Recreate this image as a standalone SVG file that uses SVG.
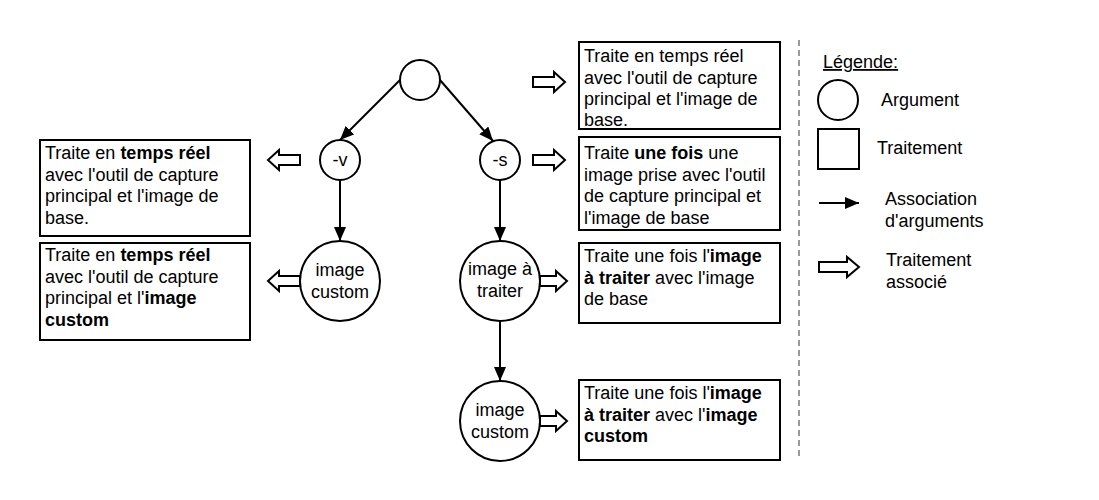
<svg xmlns="http://www.w3.org/2000/svg" width="1099" height="500" viewBox="0 0 1099 500">
<defs>
<style>
.s{fill:#fff;stroke:#000;stroke-width:2}
.t{font-family:"Liberation Sans",Arial,sans-serif;font-size:18px;fill:#000}
.c{text-anchor:middle}
.b{font-weight:bold}
.ln{fill:none;stroke:#000;stroke-width:2}
.ba{fill:#fff;stroke:#000;stroke-width:2;stroke-linejoin:miter}
</style>
<marker id="ah" viewBox="0 0 14 12" refX="14" refY="6" markerWidth="14" markerHeight="12" markerUnits="userSpaceOnUse" orient="auto">
<path d="M0,0 L14,6 L0,12 Z" fill="#000"/>
</marker>
</defs>
<rect width="1099" height="500" fill="#fff"/>

<g id="connectors">
<line class="ln" x1="400" y1="80" x2="340" y2="140" marker-end="url(#ah)"/>
<line class="ln" x1="440" y1="80" x2="493" y2="141" marker-end="url(#ah)"/>
<line class="ln" x1="340" y1="180" x2="340" y2="241" marker-end="url(#ah)"/>
<line class="ln" x1="500" y1="180" x2="500" y2="241" marker-end="url(#ah)"/>
<line class="ln" x1="500" y1="321" x2="500" y2="381" marker-end="url(#ah)"/>
<path class="ba" d="M300,155 L279,155 L279,150 L268,160 L279,170 L279,165 L300,165 Z"/>
<path class="ba" d="M300,276 L279,276 L279,271 L268,281 L279,291 L279,286 L300,286 Z"/>
<path class="ba" d="M533,77 L554,77 L554,72 L565,82 L554,92 L554,87 L533,87 Z"/>
<path class="ba" d="M533,155 L554,155 L554,150 L565,160 L554,170 L554,165 L533,165 Z"/>
<path class="ba" d="M540,276 L556,276 L556,271 L567,281 L556,291 L556,286 L540,286 Z"/>
<path class="ba" d="M540,416 L556,416 L556,411 L567,421 L556,431 L556,426 L540,426 Z"/>
</g>

<g id="root"><circle class="s" cx="420" cy="80" r="20"/></g>
<g id="arg-v"><circle class="s" cx="340" cy="160" r="20"/><text class="t c" x="340" y="166">-v</text></g>
<g id="arg-s"><circle class="s" cx="500" cy="160" r="20"/><text class="t c" x="500" y="166">-s</text></g>
<g id="arg-image-custom-v"><circle class="s" cx="340" cy="281" r="40"/><text class="t c" x="340" y="276">image</text><text class="t c" x="340" y="297.5">custom</text></g>
<g id="arg-image-a-traiter"><circle class="s" cx="500" cy="281" r="40"/><text class="t c" x="500" y="275">image à</text><text class="t c" x="500" y="296.5">traiter</text></g>
<g id="arg-image-custom-s"><circle class="s" cx="500" cy="421" r="40"/><text class="t c" x="500" y="416">image</text><text class="t c" x="500" y="437.5">custom</text></g>

<g id="box-left-1"><rect class="s" x="40" y="140" width="210" height="96"/>
<text class="t" x="45" y="159">Traite en <tspan class="b">temps réel</tspan></text>
<text class="t" x="45" y="180.5">avec l'outil de capture</text>
<text class="t" x="45" y="202">principal et l'image de</text>
<text class="t" x="45" y="223.5">base.</text></g>

<g id="box-left-2"><rect class="s" x="40" y="243" width="210" height="97"/>
<text class="t" x="45" y="261">Traite en <tspan class="b">temps réel</tspan></text>
<text class="t" x="45" y="282.5">avec l'outil de capture</text>
<text class="t" x="45" y="304">principal et l'<tspan class="b">image</tspan></text>
<text class="t b" x="45" y="325.5">custom</text></g>

<g id="box-right-1"><rect class="s" x="579" y="42" width="201" height="87"/>
<text class="t" x="584" y="62">Traite en temps réel</text>
<text class="t" x="584" y="83.5">avec l'outil de capture</text>
<text class="t" x="584" y="105">principal et l'image de</text>
<text class="t" x="584" y="126">base.</text></g>

<g id="box-right-2"><rect class="s" x="579" y="137" width="201" height="93"/>
<text class="t" x="584" y="159">Traite <tspan class="b">une fois</tspan> une</text>
<text class="t" x="584" y="180.5">image prise avec l'outil</text>
<text class="t" x="584" y="202">de capture principal et</text>
<text class="t" x="584" y="223.5">l'image de base</text></g>

<g id="box-right-3"><rect class="s" x="579" y="243" width="201" height="80"/>
<text class="t" x="584" y="262">Traite une fois l'<tspan class="b">image</tspan></text>
<text class="t" x="584" y="283.5"><tspan class="b">à traiter</tspan> avec l'image</text>
<text class="t" x="584" y="305">de base</text></g>

<g id="box-right-4"><rect class="s" x="579" y="380" width="201" height="80"/>
<text class="t" x="584" y="399">Traite une fois l'<tspan class="b">image</tspan></text>
<text class="t" x="584" y="420.5"><tspan class="b">à traiter</tspan> avec l'<tspan class="b">image</tspan></text>
<text class="t b" x="584" y="442">custom</text></g>

<g id="separator"><line x1="799" y1="40" x2="799" y2="460" stroke="#999" stroke-width="2" stroke-dasharray="6 4"/></g>

<g id="legend">
<text class="t" x="823" y="68" text-decoration="underline">Légende:</text>
<circle class="s" cx="838" cy="100" r="20"/>
<text class="t" x="881" y="106">Argument</text>
<rect class="s" x="818" y="129" width="41" height="40"/>
<text class="t" x="877" y="154">Traitement</text>
<line class="ln" x1="819" y1="203" x2="859" y2="203" marker-end="url(#ah)"/>
<text class="t" x="885" y="205">Association</text>
<text class="t" x="885" y="226.5">d'arguments</text>
<path class="ba" d="M819,262 L847,262 L847,257 L859,267 L847,277 L847,272 L819,272 Z"/>
<text class="t" x="886" y="266">Traitement</text>
<text class="t" x="886" y="288">associé</text>
</g>
</svg>
